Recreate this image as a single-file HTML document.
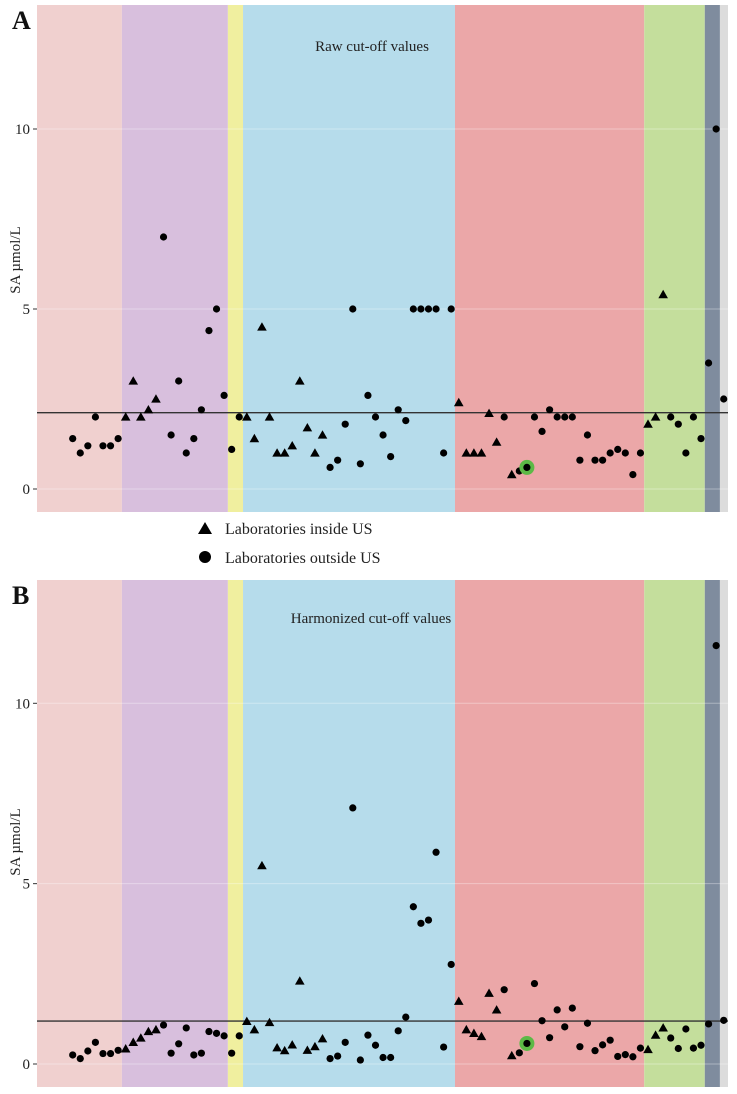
<!DOCTYPE html>
<html><head><meta charset="utf-8">
<style>
html,body{margin:0;padding:0;background:#fff;}
svg{display:block;font-family:"Liberation Serif",serif;}
</style></head>
<body>
<svg id="chart" width="737" height="1094" viewBox="0 0 737 1094" xmlns="http://www.w3.org/2000/svg"></svg>
<script>
const rawValues=[1.4,1.0,1.2,2.0,1.2,1.2,1.4,2.0,3.0,2.0,2.2,2.5,7.0,1.5,3.0,1.0,1.4,2.2,4.4,5.0,2.6,1.1,2.0,2.0,1.4,4.5,2.0,1.0,1.0,1.2,3.0,1.7,1.0,1.5,0.6,0.8,1.8,5.0,0.7,2.6,2.0,1.5,0.9,2.2,1.9,5.0,5.0,5.0,5.0,1.0,5.0,2.4,1.0,1.0,1.0,2.1,1.3,2.0,0.4,0.5,0.6,2.0,1.6,2.2,2.0,2.0,2.0,0.8,1.5,0.8,0.8,1.0,1.1,1.0,0.4,1.0,1.8,2.0,5.4,2.0,1.8,1.0,2.0,1.4,3.5,10.0,2.5];
const harmValues=[0.25,0.15,0.36,0.6,0.29,0.29,0.38,0.42,0.6,0.72,0.9,0.95,1.08,0.3,0.56,1.0,0.25,0.3,0.9,0.85,0.78,0.3,0.78,1.18,0.95,5.5,1.15,0.45,0.37,0.53,2.3,0.38,0.48,0.7,0.15,0.22,0.6,7.1,0.11,0.8,0.52,0.18,0.18,0.92,1.3,4.36,3.9,3.99,5.87,0.47,2.76,1.74,0.95,0.85,0.76,1.96,1.5,2.06,0.23,0.31,0.57,2.23,1.2,0.73,1.5,1.03,1.55,0.48,1.13,0.37,0.53,0.66,0.21,0.26,0.2,0.44,0.4,0.8,1.0,0.72,0.43,0.97,0.44,0.52,1.11,11.6,1.21];
const insideUS=[7,8,9,10,11,23,24,25,26,27,28,29,30,31,32,33,51,52,53,54,55,56,58,76,77,78];
const highlighted=[60];
const rawCutoff=2.12;
const harmCutoff=1.19;
const bandEnds=[6.5,20.5,22.5,50.5,75.5,83.5,85.5,86.5];
const bandNames=['band-1','band-2','band-3','band-4','band-5','band-6','band-7','band-8'];
const bandColors=['#f0d0cf','#d8bfdd','#f0ef9f','#b6dceb','#eba7a8','#c4de9c','#7f8c9e','#dcdcdc'];
const yTicks=[0,5,10];

const NS='http://www.w3.org/2000/svg';
const svg=document.getElementById('chart');
function mk(tag,attrs,parent){const e=document.createElementNS(NS,tag);for(const k in attrs)e.setAttribute(k,attrs[k]);(parent||svg).appendChild(e);return e;}
const xLeft=37,xRight=728;
function xScale(i){return 72.7+7.57*i;}

function panel(p){
  const g=mk('g',{});
  
  
  const yS=v=>p.y0-v*p.k;
  let start=xLeft;
  bandEnds.forEach((b,j)=>{
    const end=j===bandEnds.length-1?xRight:xScale(b);
    const r=mk('rect',{x:start,y:p.top,width:end-start,height:p.bot-p.top,fill:bandColors[j]},g);
    
    
    start=end;
  });
  yTicks.forEach(t=>{
    const gl=mk('line',{x1:xLeft,x2:xRight,y1:yS(t),y2:yS(t),stroke:'#fff','stroke-opacity':0.35,'stroke-width':1},g);
    
    
    const tk=mk('line',{x1:33,x2:37,y1:yS(t),y2:yS(t),stroke:'#333','stroke-width':1},g);
    
    
    const tl=mk('text',{x:30,y:yS(t)+5,'text-anchor':'end','font-size':15,fill:'#222'},g);
    tl.textContent=String(t);
    
    
  });
  const hl=mk('line',{x1:xLeft,x2:xRight,y1:yS(p.cut),y2:yS(p.cut),stroke:'#333','stroke-width':1.3},g);
  
  
  p.vals.forEach((v,i)=>{
    const cx=xScale(i),cy=yS(v);
    if(highlighted.includes(i)){
      const ring=mk('circle',{cx:cx,cy:cy,r:7.5,fill:'#5cb946'},g);
      
      
    }
    let m;
    if(insideUS.includes(i)){
      m=mk('polygon',{points:`${cx-4.8},${cy+3.6} ${cx+4.8},${cy+3.6} ${cx},${cy-4.8}`,fill:'#000'},g);
      
    }else{
      m=mk('circle',{cx:cx,cy:cy,r:3.6,fill:'#000'},g);
      
    }
    
  });
  const ttl=mk('text',{x:p.tx,y:p.ty,'text-anchor':'middle','font-size':15,fill:'#222'},g);
  ttl.textContent=p.title;
  
  
  const lab=mk('text',{x:12,y:p.top+24,'font-size':26,'font-weight':'bold',fill:'#111'},g);
  lab.textContent=p.letter;
  
  
  const yt=mk('text',{x:0,y:0,'text-anchor':'middle','font-size':15,fill:'#222',transform:`translate(20,${p.ytc}) rotate(-90)`},g);
  yt.textContent='SA µmol/L';
  
  
}
panel({name:'panel-a',top:5,bot:512,y0:489,k:36,vals:rawValues,cut:rawCutoff,title:'Raw cut-off values',tx:372,ty:51,letter:'A',ytc:260});
panel({name:'panel-b',top:580,bot:1087,y0:1064,k:36.07,vals:harmValues,cut:harmCutoff,title:'Harmonized cut-off values',tx:371,ty:623,letter:'B',ytc:842});

// legend
const lg=mk('g',{});


const lt=mk('polygon',{points:'198,534 212,534 205,522',fill:'#000'},lg);


const ltt=mk('text',{x:225,y:534,'font-size':16,fill:'#222'},lg);
ltt.textContent='Laboratories inside US';


const lc=mk('circle',{cx:205,cy:557,r:6,fill:'#000'},lg);


const lct=mk('text',{x:225,y:563,'font-size':16,fill:'#222'},lg);
lct.textContent='Laboratories outside US';


</script>
</body></html>
